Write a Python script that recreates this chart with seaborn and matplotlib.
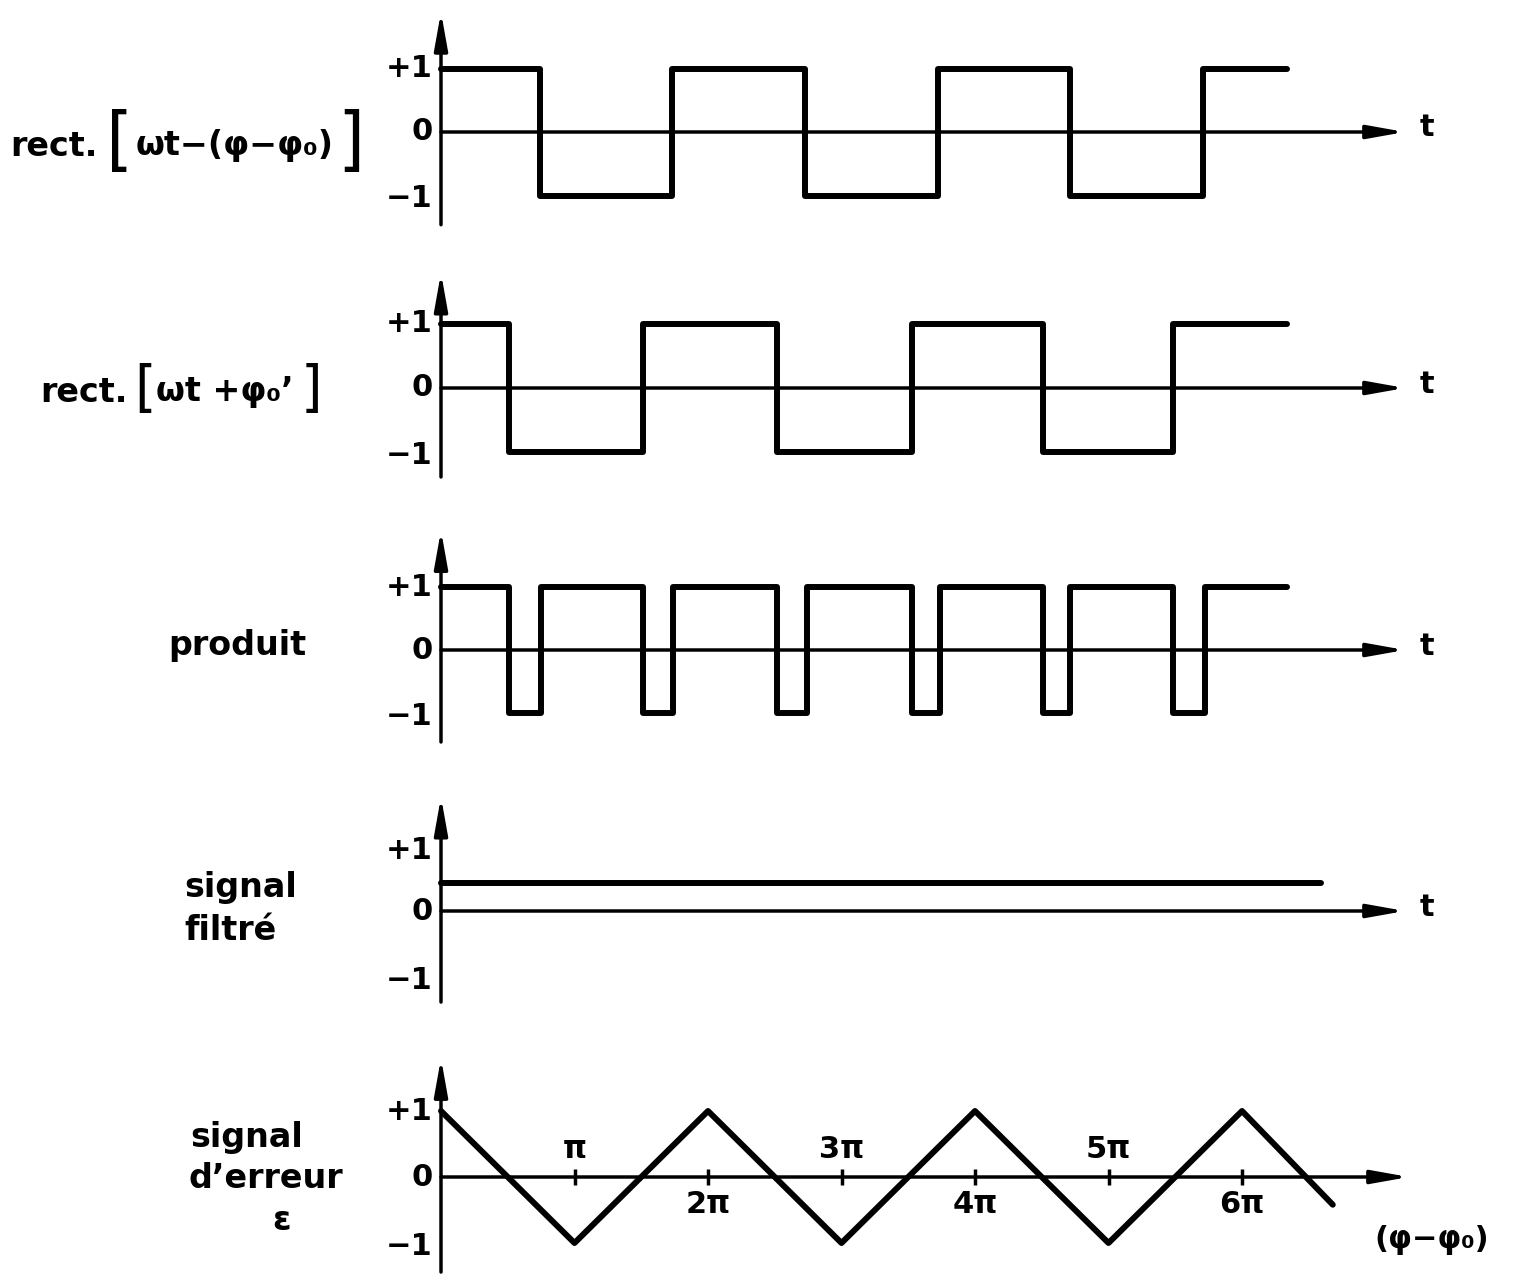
import matplotlib
matplotlib.use("Agg")
import matplotlib.pyplot as plt
import seaborn as sns

sns.set_theme(style="white")
plt.rcParams['font.family'] = ['DejaVu Sans']
plt.rcParams['text.color'] = 'black'

# --- données (abscisse en unités de pi) ---
t_rect1 = [0, 0.74, 1.73, 2.73, 3.72, 4.71, 5.71, 6.34]
v_rect1 = [1, -1, 1, -1, 1, -1, 1, 1]

t_rect2 = [0, 0.51, 1.51, 2.52, 3.53, 4.51, 5.48, 6.34]
v_rect2 = [1, -1, 1, -1, 1, -1, 1, 1]

t_prod = [0, 0.51, 0.75, 1.51, 1.74, 2.52, 2.74, 3.53, 3.74, 4.51, 4.71, 5.48, 5.72, 6.34]
v_prod = [1, -1, 1, -1, 1, -1, 1, -1, 1, -1, 1, -1, 1, 1]

t_filtre = [0, 6.59]
v_filtre = [0.43, 0.43]

phi_err = [0, 1, 2, 3, 4, 5, 6, 6.68]
v_err = [1, -1, 1, -1, 1, -1, 1, -0.42]

graduations = [1, 2, 3, 4, 5, 6]
grad_labels = ["π", "2π", "3π", "4π", "5π", "6π"]
niveaux = ["+1", "0", "−1"]

# --- mise en page (pixels) ---
W, H = 1519, 1277
X0, PI_PX = 441, 133.5
LW_SIG, LW_AX = 4.3, 2.5

fig = plt.figure(figsize=(W / 100, H / 100), dpi=100)


def fx(px):
    return px / W


def fy(py):
    return 1 - py / H


def add_panel(zero_px, unit_px, half=2.0):
    ax = fig.add_axes([0, 1 - (zero_px + half * unit_px) / H, 1, 2 * half * unit_px / H])
    ax.set_xlim(-X0 / PI_PX, (W - X0) / PI_PX)
    ax.set_ylim(-half, half)
    ax.axis("off")
    ax.patch.set_alpha(0)
    return ax


def draw_axes(ax, top, bottom, right=7.22):
    style = dict(arrowstyle="-|>,head_length=1.4,head_width=0.25", lw=LW_AX,
                 color="black", shrinkA=0, shrinkB=0, mutation_scale=16)
    ax.annotate("", xy=(0, top), xytext=(0, bottom), arrowprops=style)
    ax.annotate("", xy=(right, 0), xytext=(0, 0), arrowprops=style)


def level_labels(ax, ys=(1.0, 0.0, -1.05)):
    for lab, y in zip(niveaux, ys):
        ax.text(-0.065, y, lab, ha="right", va="center", fontsize=22, fontweight="bold")


def signal(ax, x, y, steps=True):
    kw = dict(drawstyle="steps-post") if steps else {}
    sns.lineplot(x=x, y=y, ax=ax, color="black", lw=LW_SIG, estimator=None,
                 sort=False, legend=False, **kw)
    ax.axis("off")


# Panneau 1 : rect[wt - (phi - phi0)]
ax1 = add_panel(132, 63.5)
draw_axes(ax1, 1.89, -1.46)
signal(ax1, t_rect1, v_rect1)
level_labels(ax1)
ax1.text(7.33, 0.07, "t", ha="left", va="center", fontsize=22, fontweight="bold")
fig.text(fx(10), fy(146), "rect.", ha="left", va="center", fontsize=24, fontweight="bold")
fig.text(fx(106), fy(142), "[", ha="left", va="center", fontsize=50)
fig.text(fx(136), fy(146), "ωt−(φ−φ₀)", ha="left", va="center", fontsize=24, fontweight="bold")
fig.text(fx(364), fy(142), "]", ha="right", va="center", fontsize=50)

# Panneau 2 : rect[wt + phi0']
ax2 = add_panel(388, 64)
draw_axes(ax2, 1.8, -1.39)
signal(ax2, t_rect2, v_rect2)
level_labels(ax2)
ax2.text(7.33, 0.05, "t", ha="left", va="center", fontsize=22, fontweight="bold")
fig.text(fx(40), fy(392), "rect.", ha="left", va="center", fontsize=24, fontweight="bold")
fig.text(fx(134), fy(390), "[", ha="left", va="center", fontsize=40)
fig.text(fx(156), fy(392), "ωt +φ₀’", ha="left", va="center", fontsize=24, fontweight="bold")
fig.text(fx(322), fy(390), "]", ha="right", va="center", fontsize=40)

# Panneau 3 : produit
ax3 = add_panel(650, 63)
draw_axes(ax3, 1.9, -1.46)
signal(ax3, t_prod, v_prod)
level_labels(ax3)
ax3.text(7.33, 0.05, "t", ha="left", va="center", fontsize=22, fontweight="bold")
fig.text(fx(168), fy(645), "produit", ha="left", va="center", fontsize=24, fontweight="bold")

# Panneau 4 : signal filtré
ax4 = add_panel(911, 66)
draw_axes(ax4, 1.73, -1.38)
signal(ax4, t_filtre, v_filtre, steps=False)
level_labels(ax4, ys=(0.92, 0.0, -1.05))
ax4.text(7.33, 0.05, "t", ha="left", va="center", fontsize=22, fontweight="bold")
fig.text(fx(184), fy(888), "signal", ha="left", va="center", fontsize=24, fontweight="bold")
fig.text(fx(184), fy(930), "filtré", ha="left", va="center", fontsize=24, fontweight="bold")

# Panneau 5 : signal d'erreur
ax5 = add_panel(1177, 66)
draw_axes(ax5, 1.8, -1.44, right=7.25)
signal(ax5, phi_err, v_err, steps=False)
level_labels(ax5)
ax5.plot(graduations, [0] * len(graduations), ls="none", marker="|", ms=12,
         mew=LW_AX, color="black")
for g, lab in zip(graduations, grad_labels):
    y = 0.42 if g % 2 else -0.42
    ax5.text(g, y, lab, ha="center", va="center", fontsize=22, fontweight="bold")
ax5.text(7.42, -0.95, "(φ−φ₀)", ha="center", va="center", fontsize=22, fontweight="bold")
fig.text(fx(190), fy(1137), "signal", ha="left", va="center", fontsize=24, fontweight="bold")
fig.text(fx(188), fy(1178), "d’erreur", ha="left", va="center", fontsize=24, fontweight="bold")
fig.text(fx(281), fy(1220), "ε", ha="center", va="center", fontsize=24, fontweight="bold")

fig.savefig("out.png", dpi=100, facecolor="white")
